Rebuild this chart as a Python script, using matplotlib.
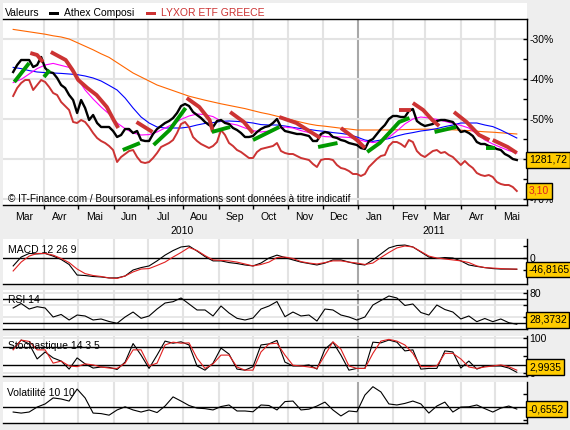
import matplotlib
matplotlib.use('Agg')
import matplotlib.pyplot as plt
import matplotlib.dates as mdates
from matplotlib.patches import Rectangle
import pandas as pd
import numpy as np

plt.rcParams['font.family'] = ['Liberation Sans', 'DejaVu Sans']

W, H = 570, 430
BG = '#EEEEEE'

# ---------------- data ----------------
# price series: half-week readings starting Friday 2010-03-05
# indicator / average series: weekly readings starting Friday 2010-03-05
series_start = '2010-03-05'

athex = [-38.25, -36.5, -35.25, -35.25, -35.25, -37.0, -36.5, -34.5, -37.25, -38.25,
         -38.5, -39.75, -41.5, -42.25, -44.0, -45.25, -48.5, -45.25, -47.25, -50.25,
         -49.0, -51.0, -52.0, -52.0, -52.0, -53.0, -54.5, -54.0, -52.5, -52.5,
         -53.5, -53.0, -55.25, -55.5, -55.5, -53.75, -52.5, -51.75, -51.0, -50.5,
         -49.75, -48.5, -46.75, -46.25, -46.75, -48.25, -49.0, -49.75, -50.75, -51.5,
         -52.0, -50.5, -50.25, -51.0, -51.25, -52.25, -52.75, -53.5, -54.5, -54.5,
         -54.25, -53.25, -52.5, -52.0, -51.75, -51.0, -50.0, -52.0, -53.0, -53.25,
         -53.5, -53.75, -53.75, -54.0, -54.25, -55.5, -55.5, -53.75, -53.25, -53.5,
         -54.5, -54.75, -55.25, -55.5, -56.0, -56.25, -56.5, -57.25, -57.5, -55.5,
         -55.0, -53.75, -52.5, -51.5, -50.0, -49.25, -49.25, -49.5, -49.5, -48.0,
         -47.5, -50.5, -51.25, -51.75, -51.5, -51.25, -50.5, -50.25, -50.25, -50.5,
         -50.75, -52.0, -53.25, -53.0, -53.5, -54.25, -55.75, -56.25, -56.25, -56.75,
         -57.0, -57.5, -57.75, -58.75, -59.25, -60.0, -60.25]

lyxor = [-44.25, -42.25, -41.0, -40.25, -40.25, -42.75, -41.5, -40.25, -40.75, -42.0,
         -43.5, -44.0, -45.75, -46.75, -47.75, -50.75, -51.0, -50.25, -50.75, -52.0,
         -53.5, -54.75, -55.5, -56.0, -56.75, -57.75, -60.75, -59.5, -58.75, -58.0,
         -57.75, -59.5, -60.75, -61.0, -60.75, -59.75, -58.5, -57.0, -56.5, -56.0,
         -55.25, -53.5, -51.25, -50.75, -52.0, -54.5, -55.5, -56.25, -56.75, -57.25,
         -56.75, -55.75, -52.75, -54.0, -56.0, -56.75, -57.75, -58.25, -59.0, -59.75,
         -59.75, -58.25, -57.5, -57.25, -57.0, -56.75, -56.0, -58.0, -58.5, -58.75,
         -58.75, -59.25, -59.75, -60.0, -60.25, -61.25, -62.0, -60.25, -60.0, -60.0,
         -60.25, -61.5, -62.25, -62.5, -63.0, -63.75, -63.75, -64.25, -63.75, -62.0,
         -61.0, -60.0, -59.25, -59.0, -56.75, -55.75, -55.75, -56.25, -57.0, -55.25,
         -55.75, -58.0, -59.0, -59.5, -58.75, -58.0, -57.75, -58.5, -58.25, -59.0,
         -59.5, -60.5, -61.5, -60.5, -61.5, -62.25, -63.5, -64.0, -64.25, -64.0,
         -64.5, -65.75, -66.25, -66.5, -66.5, -67.0, -68.0]

ma_orange = [-27.6, -27.9, -28.2, -28.5, -28.8, -29.2, -29.5, -30.0, -30.9, -31.8,
             -32.7, -33.7, -34.6, -35.9, -37.2, -38.5, -39.5, -40.5, -41.5, -42.2,
             -42.9, -43.6, -44.3, -44.8, -45.3, -45.75, -46.2, -46.6, -47.0, -47.4,
             -47.9, -48.4, -48.8, -49.3, -49.8, -50.3, -50.8, -51.25, -51.6, -51.8,
             -52.05, -52.3, -52.5, -52.75, -52.75, -52.75, -52.75, -52.75, -52.7, -52.65,
             -52.6, -52.55, -52.55, -52.6, -52.65, -52.7, -52.8, -52.9, -53.05, -53.2,
             -53.3, -53.45, -53.6, -53.75]

ma_blue = [-37.1, -37.4, -37.9, -38.25, -38.4, -38.5, -38.6, -38.75, -38.9, -39.25,
           -39.75, -40.5, -41.6, -42.75, -44.75, -47.25, -49.5, -51.0, -52.0, -52.25,
           -52.25, -52.25, -52.0, -51.5, -51.1, -50.9, -50.6, -50.5, -50.6, -50.75,
           -51.0, -51.4, -51.5, -51.5, -51.75, -52.1, -52.4, -52.6, -52.9, -53.1,
           -53.4, -53.6, -53.9, -54.5, -55.25, -55.6, -55.25, -54.9, -54.25, -53.75,
           -53.4, -53.0, -52.75, -52.4, -51.9, -51.5, -51.0, -51.0, -51.0, -51.5,
           -51.9, -52.75, -53.75, -54.75]

ma_magenta = [-40.9, -40.1, -38.75, -37.4, -36.5, -36.1, -36.6, -37.1, -39.75, -42.75,
              -45.0, -47.0, -48.75, -51.0, -52.4, -53.5, -54.0, -53.9, -53.25, -52.25,
              -51.25, -50.1, -49.25, -48.75, -48.9, -49.4, -50.5, -51.1, -51.5, -52.25,
              -52.9, -53.25, -53.0, -52.4, -52.0, -52.25, -52.9, -53.4, -54.0, -54.4,
              -54.5, -54.5, -54.6, -55.0, -55.6, -55.9, -55.6, -54.6, -53.0, -51.25,
              -50.0, -49.5, -49.75, -50.1, -50.6, -51.1, -51.6, -52.25, -53.75, -55.25,
              -56.25, -57.1, -57.9, -58.5]

# parabolic SAR runs: (side, dates, values)
sar_runs = [
    ('g', ['2010-03-06', '2010-03-19'], [-40.75, -36.0]),
    ('r', ['2010-03-20', '2010-03-26', '2010-03-31'], [-33.5, -34.0, -35.75]),
    ('g', ['2010-04-01', '2010-04-06'], [-39.5, -37.75]),
    ('r', ['2010-04-07', '2010-04-20', '2010-04-26', '2010-05-01', '2010-05-09',
           '2010-05-17', '2010-05-26', '2010-06-01', '2010-06-05'],
     [-33.25, -35.25, -37.75, -40.25, -42.25, -44.0, -47.0, -50.25, -52.25]),
    ('g', ['2010-06-09', '2010-06-24'], [-57.75, -56.0]),
    ('r', ['2010-06-21', '2010-07-05'], [-50.75, -53.25]),
    ('g', ['2010-07-06', '2010-07-20', '2010-08-03'], [-56.5, -52.75, -47.25]),
    ('r', ['2010-08-04', '2010-08-15', '2010-08-24', '2010-08-27'], [-44.75, -47.0, -50.25, -53.25]),
    ('g', ['2010-08-26', '2010-09-11'], [-53.25, -52.0]),
    ('r', ['2010-09-11', '2010-09-23', '2010-10-01'], [-48.25, -50.75, -53.5]),
    ('g', ['2010-10-01', '2010-10-24'], [-55.25, -52.0]),
    ('r', ['2010-10-24', '2010-11-08', '2010-11-22', '2010-11-29'], [-49.5, -51.0, -53.5, -54.75]),
    ('g', ['2010-11-27', '2010-12-14'], [-57.0, -56.0]),
    ('r', ['2010-12-17', '2010-12-31', '2011-01-07'], [-52.25, -55.25, -57.25]),
    ('g', ['2011-01-09', '2011-01-20', '2011-01-29', '2011-02-06', '2011-02-15'],
     [-58.25, -56.0, -53.25, -50.75, -49.75]),
    ('r', ['2011-02-06', '2011-02-16'], [-47.75, -47.75]),
    ('r', ['2011-02-18', '2011-02-27', '2011-03-07', '2011-03-13'], [-46.0, -47.75, -50.25, -51.75]),
    ('g', ['2011-03-09', '2011-03-28'], [-53.25, -52.0]),
    ('r', ['2011-03-26', '2011-04-06', '2011-04-17', '2011-04-26'], [-48.25, -50.75, -54.0, -55.25]),
    ('g', ['2011-04-23', '2011-05-01'], [-57.25, -57.25]),
    ('r', ['2011-04-29', '2011-05-12', '2011-05-20'], [-55.25, -57.0, -58.5]),
]

macd = [-33, 4, 19, 17, 19, 8, -6, -27, -71, -73,
        -77, -79, -83, -83, -75, -50, -40, -33, -12, 12,
        31, 46, 50, 29, 6, -12, -12, -19, -23, -29,
        -33, -21, 0, 12, 2, -8, -17, -23, -29, -21,
        -8, -8, -17, -25, -29, -8, 17, 42, 52, 54,
        46, 25, 4, -2, 2, 0, -12, -29, -35, -40,
        -44, -46, -46, -47]
macd_signal = [-54, -17, 8, 19, 19, 12, -2, -19, -46, -65,
               -73, -77, -83, -85, -75, -58, -46, -44, -31, -17,
               4, 23, 44, 31, 10, -8, -10, -12, -17, -25,
               -33, -27, -17, 2, 4, -2, -15, -21, -25, -19,
               -12, -12, -17, -21, -27, -21, 2, 23, 42, 50,
               46, 27, 8, 0, -4, -8, -12, -19, -33, -40,
               -42, -44, -46, -46]
rsi = [55.5, 63, 53.8, 57.7, 55.5, 40.5, 44.7, 35.5, 43.8, 42.2,
       35.5, 37.2, 33, 30, 40.5, 48.8, 38.3, 42.2, 53.8, 63.8,
       66, 72.2, 62.2, 52.2, 52.2, 42.2, 58.8, 47.2, 38.3, 35.5,
       38.8, 53.8, 58.8, 66.3, 41, 48.8, 42.2, 43.8, 33.8, 53.8,
       52.2, 43.8, 40.5, 35.5, 40.5, 60.5, 68, 75.5, 72.2, 59.7,
       62.2, 48, 43.8, 60.5, 53, 48.8, 37.2, 42.2, 32.7, 38,
       32.7, 37.2, 31, 28.4]
stoch_k = [69, 95, 84, 41, 61, 44, 35, 12, 44, 27,
           15, 18, 17, 11, 32, 85, 52, 14, 52, 92,
           86, 90, 81, 21, 9, 29, 72, 55, 12, 9,
           19, 81, 84, 94, 32, 21, 21, 24, 12, 69,
           89, 52, 9, 14, 14, 89, 87, 95, 89, 64,
           67, 12, 14, 14, 64, 61, 15, 35, 12, 21,
           21, 21, 15, 3]
stoch_d = [67, 95, 91, 67, 67, 29, 35, 21, 19, 27,
           24, 18, 15, 14, 29, 67, 67, 21, 29, 81,
           89, 86, 87, 43, 14, 27, 52, 52, 18, 9,
           9, 61, 84, 86, 52, 23, 21, 18, 14, 52,
           90, 69, 21, 14, 14, 57, 92, 97, 92, 81,
           57, 19, 19, 21, 57, 57, 41, 18, 14, 18,
           21, 24, 19, 9]
volat = [-1.8, -2.2, -1.8, 0.1, 1.3, 3.6, 3.2, 2.4, 7.0, 3.6,
         -2.2, -2.4, -3.0, -1.0, 0.2, -1.0, -1.8, -1.0, -2.0, 0.5,
         4.0, 2.4, 0.7, -0.3, -0.5, -1.0, 0.3, 0.9, -1.4, -1.4,
         -1.7, 0.9, 0.7, -1.0, 2.2, 2.4, -1.0, -0.7, 0.5, 2.0,
         -1.0, -3.3, -1.4, -1.7, 4.7, 7.9, 5.9, 1.3, 0.9, 1.5,
         2.4, 1.3, -2.2, 0.5, 2.0, -1.8, 0.1, 0.2, 0.9, -0.5,
         -1.8, -0.3, 0.5, -0.66]

month_labels = ['Mar', 'Avr', 'Mai', 'Jun', 'Jul', 'Aou', 'Sep', 'Oct', 'Nov', 'Dec',
                'Jan', 'Fev', 'Mar', 'Avr', 'Mai']
year_labels = [('2010', '2010-07-31'), ('2011', '2011-03-08')]
last_texts = {'athex': '1281,72', 'lyxor': '3,10', 'macd': '-46,8165',
              'rsi': '28,3732', 'stoch': '2,9935', 'vol': '-0,6552'}

# ---------------- figure ----------------
halfweeks = pd.date_range(series_start, periods=len(athex), freq='84h')
weeks = pd.date_range(series_start, periods=len(ma_blue), freq='7D')
first_month = pd.Timestamp('2010-03-01')
month_starts = [first_month + pd.DateOffset(months=i) for i in range(1, len(month_labels))]
month_mids = [first_month + pd.DateOffset(months=i) + pd.Timedelta(days=14) for i in range(len(month_labels))]

fig = plt.figure(figsize=(W / 100, H / 100), dpi=100, facecolor=BG)

def px_axes(x0, y0, x1, y1):
    return fig.add_axes([x0 / W, 1 - y1 / H, (x1 - x0) / W, (y1 - y0) / H])

X0 = mdates.date2num(first_month)
XLIM = (X0 - 4.9, X0 + 453.5)
FS = 7.5
GRID = '#E3E3E3'

def style(ax, ylim, top=False):
    ax.set_facecolor('white')
    ax.set_xlim(*XLIM)
    ax.set_ylim(*ylim)
    ax.spines['left'].set_visible(False)
    ax.spines['top'].set_visible(top)
    for s in ['right', 'bottom', 'top']:
        ax.spines[s].set_color('black')
        ax.spines[s].set_linewidth(1.0)
    ax.set_xticks([])
    ax.yaxis.tick_right()
    ax.tick_params(axis='y', which='both', direction='in', length=3, width=1,
                   pad=2, labelsize=FS, colors='black')
    for d in month_starts:
        ax.axvline(d, color='#A8A8A8' if d.month == 1 else GRID, lw=1.5, zorder=0)

def value_box(ax, val, text, color='black'):
    lo, hi = ax.get_ylim()
    hpx = ax.get_window_extent().height
    m = 9 * (hi - lo) / hpx
    yv = min(max(val, lo + m), hi - m * 0.8)
    ax.text(1.0 + 2.5 / ax.get_window_extent().width, yv, text,
            transform=ax.get_yaxis_transform(), ha='left', va='center',
            fontsize=FS, color=color, clip_on=False, zorder=20,
            bbox=dict(boxstyle='square,pad=0.25', fc='#FFCC00', ec='black', lw=1))

def panel_label(ax, text, y_px, top_px, bot_px, x_px=5):
    ax.text(x_px / 523.5, (bot_px - y_px) / (bot_px - top_px), text, transform=ax.transAxes,
            fontsize=FS, va='center', ha='left', zorder=6)

# legend strip
fig.add_artist(Rectangle((3 / W, 1 - 19 / H), 523.5 / W, 16 / H, transform=fig.transFigure,
                         fc='white', ec='none', zorder=0))
fig.text(5 / W, 1 - 13 / H, 'Valeurs', fontsize=FS, va='center', ha='left')
fig.add_artist(Rectangle((49 / W, 1 - 15 / H), 10 / W, 3.5 / H, transform=fig.transFigure,
                         fc='black', ec='none'))
fig.text(64 / W, 1 - 13 / H, 'Athex Composi', fontsize=FS, va='center', ha='left')
fig.add_artist(Rectangle((146 / W, 1 - 15 / H), 10 / W, 3.5 / H, transform=fig.transFigure,
                         fc='#CC3333', ec='none'))
fig.text(161 / W, 1 - 13 / H, 'LYXOR ETF GREECE', fontsize=FS, va='center', ha='left',
         color='#CC3333')

# main panel
ax = px_axes(3, 19, 526.5, 205)
style(ax, (-71.5, -25.0), top=True)
for v in [-30, -40, -50, -60, -70]:
    ax.axhline(v, color=GRID, lw=1.5, zorder=0)
ax.plot(weeks, ma_orange, color='#FF6600', lw=0.8, zorder=2)
ax.plot(weeks, ma_blue, color='#0000FF', lw=0.8, zorder=2)
ax.plot(weeks, ma_magenta, color='#FF00FF', lw=0.8, zorder=2)
ax.plot(halfweeks, lyxor, color='#CC3333', lw=1.4, zorder=3)
ax.plot(halfweeks, athex, color='black', lw=1.7, zorder=4)
for side, ds, vs in sar_runs:
    ax.plot(pd.to_datetime(ds), vs, color='#009900' if side == 'g' else '#CC3333',
            lw=2.8, solid_capstyle='butt', zorder=5)
ax.set_yticks([-30, -40, -50, -60, -70])
ax.set_yticklabels(['-30%', '-40%', '-50%', '', '-70%'])
ax.set_yticks([-35, -45, -55, -65], minor=True)
ax.set_xticks(month_starts)
ax.tick_params(axis='x', direction='out', length=3, width=1, labelbottom=False, colors='black')
h_main = 186.0
for d, lab in zip(month_mids, month_labels):
    ax.text(d, -12 / h_main, lab, transform=ax.get_xaxis_transform(), ha='center',
            va='center', fontsize=FS)
for lab, d in year_labels:
    ax.text(pd.Timestamp(d), -26 / h_main, lab, transform=ax.get_xaxis_transform(),
            ha='center', va='center', fontsize=FS)
ax.text(5 / 523.5, 6 / h_main, '\u00a9 IT-Finance.com / BoursoramaLes informations sont données à titre indicatif',
        transform=ax.transAxes, ha='left', va='center', fontsize=7.2, zorder=6)
value_box(ax, athex[-1], last_texts['athex'])
value_box(ax, lyxor[-1], last_texts['lyxor'], color='#DD2222')

# MACD
a1 = px_axes(3, 239, 526.5, 284)
style(a1, (-108.3, 79.2))
a1.axhline(0, color='black', lw=1, zorder=1)
a1.plot(weeks, macd, color='black', lw=0.8, zorder=3)
a1.plot(weeks, macd_signal, color='#E02020', lw=0.8, zorder=3)
a1.set_yticks([50, 0, -50])
a1.set_yticklabels(['', '0', ''])
panel_label(a1, 'MACD 12 26 9', 250, 239, 284)
value_box(a1, macd[-1], last_texts['macd'])

# RSI
a2 = px_axes(3, 290, 526.5, 329)
style(a2, (20.5, 85.5))
for v in [80, 60, 40]:
    a2.axhline(v, color=GRID, lw=1.2, zorder=0)
for v in [70, 30]:
    a2.axhline(v, color='black', lw=1, zorder=1)
a2.plot(weeks, rsi, color='black', lw=0.8, zorder=3)
a2.set_yticks([80, 60, 40])
a2.set_yticklabels(['80', '', ''])
panel_label(a2, 'RSI 14', 300, 290, 329)
value_box(a2, rsi[-1], last_texts['rsi'])

# Stochastic
a3 = px_axes(3, 336, 526.5, 376)
style(a3, (-7.7, 106.6))
for v in [100, 0]:
    a3.axhline(v, color=GRID, lw=1.2, zorder=0)
for v in [75, 25]:
    a3.axhline(v, color='black', lw=1, zorder=1)
a3.plot(weeks, stoch_k, color='black', lw=0.8, zorder=3)
a3.plot(weeks, stoch_d, color='#E02020', lw=0.8, zorder=3)
a3.set_yticks([100, 50, 0])
a3.set_yticklabels(['100', '', '0'])
panel_label(a3, 'Stochastique 14 3 5', 346, 336, 376)
value_box(a3, stoch_k[-1], last_texts['stoch'])

# Volatility
a4 = px_axes(3, 382, 526.5, 423)
style(a4, (-6.0, 9.7))
a4.axhline(0, color='black', lw=1, zorder=1)
a4.plot(weeks, volat, color='black', lw=0.8, zorder=3)
a4.set_yticks([5, -5])
a4.set_yticklabels(['', ''])
panel_label(a4, 'Volatilité 10 10', 393, 382, 423, x_px=4)
value_box(a4, volat[-1], last_texts['vol'])

fig.savefig('out.png', dpi=100, facecolor=BG)
